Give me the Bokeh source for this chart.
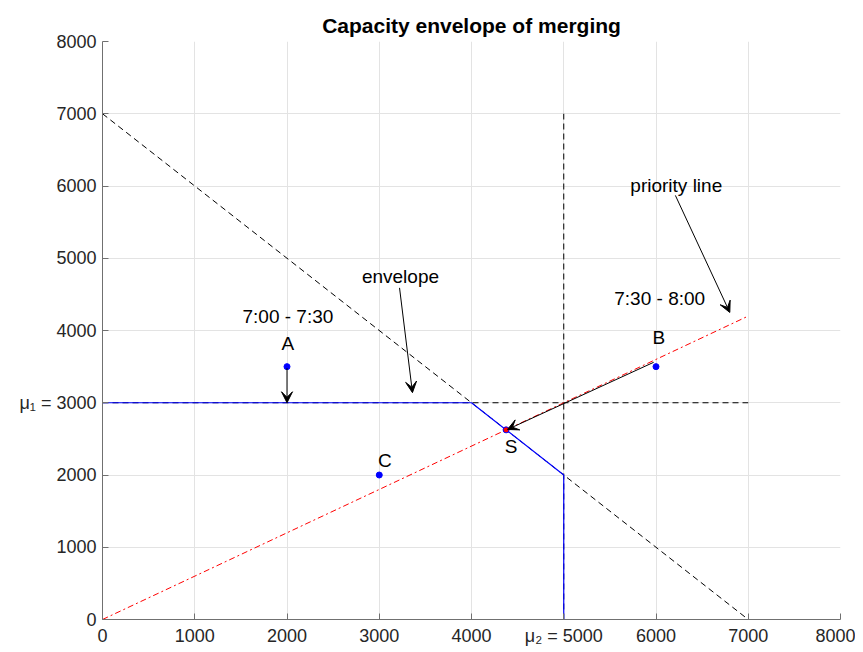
from bokeh.plotting import figure
from bokeh.models import Range1d, FixedTicker, Arrow, VeeHead, Label
from bokeh.embed import file_html
from bokeh.resources import INLINE

# ---- data ----
ticks = [0, 1000, 2000, 3000, 4000, 5000, 6000, 7000, 8000]
diag_x = [0, 7000]
diag_y = [7000, 0]
vert_x = [5000, 5000]
vert_y = [0, 7000]
horiz_x = [0, 7000]
horiz_y = [3000, 3000]
env_x = [0, 4000, 5000, 5000]
env_y = [3000, 3000, 2000, 0]
prio_x = [0, 7000]
prio_y = [0, 4200]
pts_x = [2000, 6000, 3000]
pts_y = [3500, 3500, 2000]
s_x = [4375]
s_y = [2625]
# labels: (text, x, y)
labels = [("A", 2010, 3820), ("B", 6030, 3900), ("C", 3060, 2200), ("S", 4430, 2390),
          ("7:00 - 7:30", 2010, 4200), ("7:30 - 8:00", 6040, 4440),
          ("envelope", 3230, 4750), ("priority line", 6220, 6010)]
# arrows: (x_start, y_start, x_end, y_end)
arrows = [(2000, 3480, 2000, 3000), (3220, 4590, 3360, 3140),
          (6210, 5870, 6800, 4250), (5975, 3560, 4390, 2630)]

FONT = "Liberation Sans"

p = figure(frame_width=738, frame_height=578, output_backend="svg", toolbar_location=None,
           x_range=Range1d(0, 8000), y_range=Range1d(0, 8000),
           min_border_left=102, min_border_right=15, min_border_top=41, min_border_bottom=25,
           title="Capacity envelope of merging")
p.outline_line_color = None
p.background_fill_color = "white"
p.border_fill_color = "white"

p.title.align = "center"
p.title.text_font = FONT
p.title.text_font_size = "21px"
p.title.text_font_style = "bold"
p.title.text_color = "black"

for ax in (p.xaxis[0], p.yaxis[0]):
    ax.ticker = FixedTicker(ticks=ticks)
    ax.minor_tick_line_color = None
    ax.major_tick_in = 6
    ax.major_tick_out = 0
    ax.axis_line_color = "#707070"
    ax.major_tick_line_color = "#707070"
    ax.major_label_text_font = FONT
    ax.major_label_text_font_size = "18px"
    ax.major_label_text_color = "#262626"
p.yaxis[0].major_label_overrides = {3000: "\u03bc\u2081 = 3000"}
p.xaxis[0].major_label_overrides = {5000: "\u03bc\u2082 = 5000"}
p.xaxis[0].major_label_standoff = 6
p.yaxis[0].major_label_standoff = 6

p.grid.grid_line_color = "#e3e3e3"
p.grid.ticker = FixedTicker(ticks=ticks)

p.line(diag_x, diag_y, line_color="black", line_dash="6 4", line_width=1)
p.line(vert_x, vert_y, line_color="black", line_dash="6 4", line_width=1)
p.line(horiz_x, horiz_y, line_color="black", line_dash="6 4", line_width=1)
p.line(env_x, env_y, line_color="#0000ff", line_width=1.2)
p.line(prio_x, prio_y, line_color="#ff0000", line_dash="6 3 2 3", line_width=1)

for xs, ys, xe, ye in arrows:
    p.add_layout(Arrow(x_start=xs, y_start=ys, x_end=xe, y_end=ye, line_color="black", line_width=1,
                       end=VeeHead(size=11, fill_color="black", line_color="black", line_width=1)))

p.scatter(pts_x, pts_y, size=6, fill_color="#0000ff", line_color="#0000ff")
p.scatter(s_x, s_y, size=6, fill_color="#ff0000", line_color="#0000ff")

for t, x, y in labels:
    p.add_layout(Label(x=x, y=y, text=t, text_font=FONT, text_font_size="19px",
                       text_align="center", text_baseline="middle", text_color="black"))

open("out.html", "w").write(file_html(p, INLINE))
